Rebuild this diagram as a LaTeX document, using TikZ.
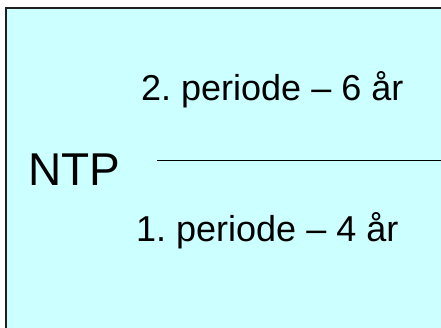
\documentclass[tikz,border=0pt]{standalone}
\usepackage{fontspec}
\setmainfont{Liberation Sans}
\frenchspacing
\definecolor{boxfill}{HTML}{CCFFFF}
\definecolor{boxline}{HTML}{202020}
\begin{document}
\begin{tikzpicture}[x=1pt,y=-1pt,
  txt/.style={inner sep=0pt,anchor=base west,font=\fontsize{36}{42}\selectfont},
  big/.style={inner sep=0pt,anchor=base west,font=\fontsize{46}{52}\selectfont}]
\useasboundingbox (0,0) rectangle (441,327);
\fill[white] (0,0) rectangle (441,327);
\draw[boxline,line width=2.2pt,fill=boxfill] (6,8) rectangle (450,340);
\node[big] (ntp) at (28,185) {NTP};
\coordinate (ls) at (157,160.7);
\coordinate (le) at (441,160.7);
\draw[line width=1pt] (ls) -- (le);
\node[txt] (p2) at (141,100) {2. periode – 6 år};
\node[txt] (p1) at (136,241.5) {1. periode – 4 år};
\end{tikzpicture}
\end{document}
